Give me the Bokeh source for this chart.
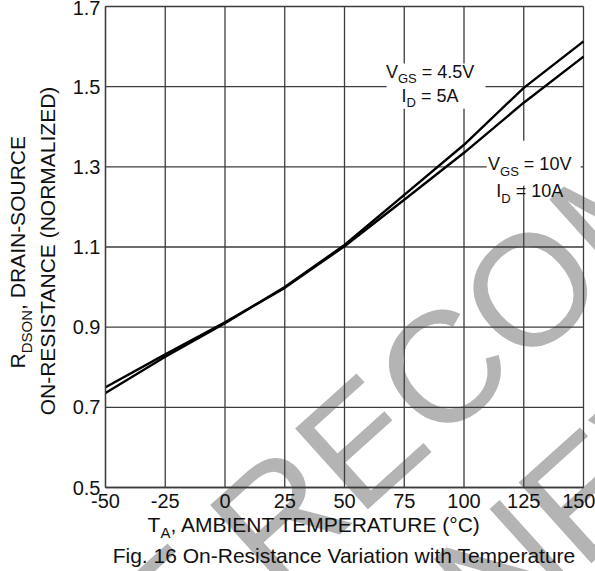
import math
from bokeh.plotting import figure
from bokeh.models import Label, BoxAnnotation, FixedTicker, Range1d
from bokeh.embed import file_html
from bokeh.resources import INLINE

# ---- data ----
temps = [-50, -25, 0, 25, 50, 75, 100, 125, 150]
r_vgs45 = [0.736, 0.826, 0.910, 1.000, 1.105, 1.230, 1.355, 1.497, 1.613]
r_vgs10 = [0.750, 0.832, 0.912, 0.998, 1.102, 1.218, 1.335, 1.460, 1.575]
x_ticks = [-50, -25, 0, 25, 50, 75, 100, 125, 150]
x_tick_labels = ["-50", "-25", "0", "25", "50", "75", "100", "125", "150"]
y_ticks = [0.5, 0.7, 0.9, 1.1, 1.3, 1.5, 1.7]
y_tick_labels = ["0.5", "0.7", "0.9", "1.1", "1.3", "1.5", "1.7"]

FONT = "Liberation Sans"
GRID = "#3c3c3c"
TXT = "#111111"
BASE_FIX = 0.37   # lift of alphabetic-baseline labels, in em

# The plotting frame fills the canvas; the data area (-50..150, 0.5..1.7)
# sits at pixels x 105..583, y 6..487 as in the reference.
W_PX, H_PX = 595, 571
L_PX, R_PX, T_PX, B_PX = 105, 583, 6, 487
xmin, xmax = min(x_ticks), max(x_ticks)
ymin, ymax = min(y_ticks), max(y_ticks)
kx = (xmax - xmin) / (R_PX - L_PX)
ky = (ymax - ymin) / (B_PX - T_PX)
x_range = Range1d(xmin - L_PX * kx, xmax + (W_PX - R_PX) * kx)
y_range = Range1d(ymin - (H_PX - B_PX) * ky, ymax + T_PX * ky)

p = figure(width=W_PX, height=H_PX, output_backend="svg", toolbar_location=None,
           x_range=x_range, y_range=y_range,
           min_border_left=0, min_border_right=0, min_border_top=0, min_border_bottom=0)
p.background_fill_color = "white"
p.border_fill_color = "white"
p.outline_line_color = None
p.grid.visible = False

p.xaxis.fixed_location = ymin
p.yaxis.fixed_location = xmin
p.xaxis.bounds = (xmin, xmax)
p.yaxis.bounds = (ymin, ymax)
for ax, ticks, labels in ((p.xaxis, x_ticks, x_tick_labels), (p.yaxis, y_ticks, y_tick_labels)):
    ax.ticker = FixedTicker(ticks=ticks)
    ax.major_label_overrides = {t: l for t, l in zip(ticks, labels)}
    ax.major_tick_in = 0
    ax.major_tick_out = 0
    ax.minor_tick_in = 0
    ax.minor_tick_out = 0
    ax.axis_line_color = GRID
    ax.axis_line_width = 1.3
    ax.major_label_text_font = FONT
    ax.major_label_text_font_size = "20px"
    ax.major_label_text_color = TXT
p.xaxis.major_label_standoff = 6
p.yaxis.major_label_standoff = 5

# watermark (beneath the grid)
wm_angle = math.radians(42)
wm_size = 158
lift = BASE_FIX * wm_size
for txt, x, y in (("NOT RECOMMENDED", 161.3, 0.979), ("FOR NEW DESIGN", 214.4, 0.627)):
    p.add_layout(Label(x=x, y=y, text=txt, angle=wm_angle, text_align="center",
                       x_offset=-lift * math.sin(wm_angle), y_offset=lift * math.cos(wm_angle),
                       text_baseline="alphabetic", text_font=FONT,
                       text_font_size=f"{wm_size}px", text_color="#b4b4b4", level="image"))

# grid lines at the tick positions
p.segment(x0=x_ticks, y0=[ymin] * len(x_ticks), x1=x_ticks, y1=[ymax] * len(x_ticks),
          line_color=GRID, line_width=1.3)
p.segment(x0=[xmin] * len(y_ticks), y0=y_ticks, x1=[xmax] * len(y_ticks), y1=y_ticks,
          line_color=GRID, line_width=1.3)

# curves
p.line(temps, r_vgs45, line_color="black", line_width=2.4)
p.line(temps, r_vgs10, line_color="black", line_width=2.4)

# white boxes behind the curve labels
p.add_layout(BoxAnnotation(left=67.6, right=109.0, bottom=1.445, top=1.5575,
                           fill_color="white", fill_alpha=1.0, line_alpha=0))
p.add_layout(BoxAnnotation(left=109.5, right=148.8, bottom=1.2525, top=1.365,
                           fill_color="white", fill_alpha=1.0, line_alpha=0))

W = {' ': 278, ',': 278, '-': 333, '.': 278, '=': 584, '(': 333, ')': 333, '°': 400,
     'A': 667, 'B': 667, 'C': 722, 'D': 722, 'E': 667, 'F': 611, 'G': 778, 'I': 278,
     'L': 556, 'M': 833, 'N': 722, 'O': 778, 'P': 667, 'R': 722, 'S': 667, 'T': 611,
     'U': 722, 'V': 667, 'Z': 611, 'i': 222, 'l': 222, 't': 278, 'r': 333, 'f': 278,
     'm': 833, 'w': 722, 's': 500, 'c': 500}


def tw(s, size):
    return sum(W.get(c, 556) for c in s) / 1000.0 * size


def rich(x, y, parts, size, sub_size, sub_drop, align="left", angle=0.0,
         base_dx=0.0, base_dy=0.0):
    total = sum(tw(t, sub_size if sub else size) for t, sub in parts)
    off = -total / 2 if align == "center" else 0.0
    ca, sa = math.cos(angle), math.sin(angle)
    for t, sub in parts:
        fs = sub_size if sub else size
        drop = (sub_drop if sub else 0) - BASE_FIX * fs
        lead = len(t) - len(t.lstrip(" "))
        o = off + tw(" " * lead, fs)
        dx = base_dx + o * ca + drop * sa
        dy = base_dy + o * sa - drop * ca
        p.add_layout(Label(x=x, y=y, x_offset=dx, y_offset=dy, text=t.lstrip(" "), angle=angle,
                           text_font=FONT, text_font_size=f"{fs}px", text_color=TXT,
                           text_align="left", text_baseline="alphabetic"))
        off += tw(t, fs)


# curve labels
rich(85.8, 1.52, [("V", False), ("GS", True), (" = 4.5V", False)], 18, 13, 5, "center")
rich(85.8, 1.46, [("I", False), ("D", True), (" = 5A", False)], 18, 13, 5, "center")
rich(127.5, 1.29, [("V", False), ("GS", True), (" = 10V", False)], 18, 13, 5, "center")
rich(127.5, 1.2225, [("I", False), ("D", True), (" = 10A", False)], 18, 13, 5, "center")

# x axis title and caption (below the data area)
rich(-32.4, ymin, [("T", False), ("A", True), (", AMBIENT TEMPERATURE (°C)", False)],
     21, 15, 6, base_dy=-45)
rich(-47.0, ymin, [("Fig. 16 On-Resistance Variation with Temperature", False)],
     21, 15, 0, base_dy=-76)

# y axis title (two rotated lines)
rich(xmin, 1.087, [("R", False), ("DSON", True), (", DRAIN-SOURCE", False)], 21, 15, 7,
     align="center", angle=math.pi / 2, base_dx=-80)
rich(xmin, 1.092, [("ON-RESISTANCE (NORMALIZED)", False)], 21, 15, 0,
     align="center", angle=math.pi / 2, base_dx=-50)

open("out.html", "w").write(file_html(p, INLINE))
